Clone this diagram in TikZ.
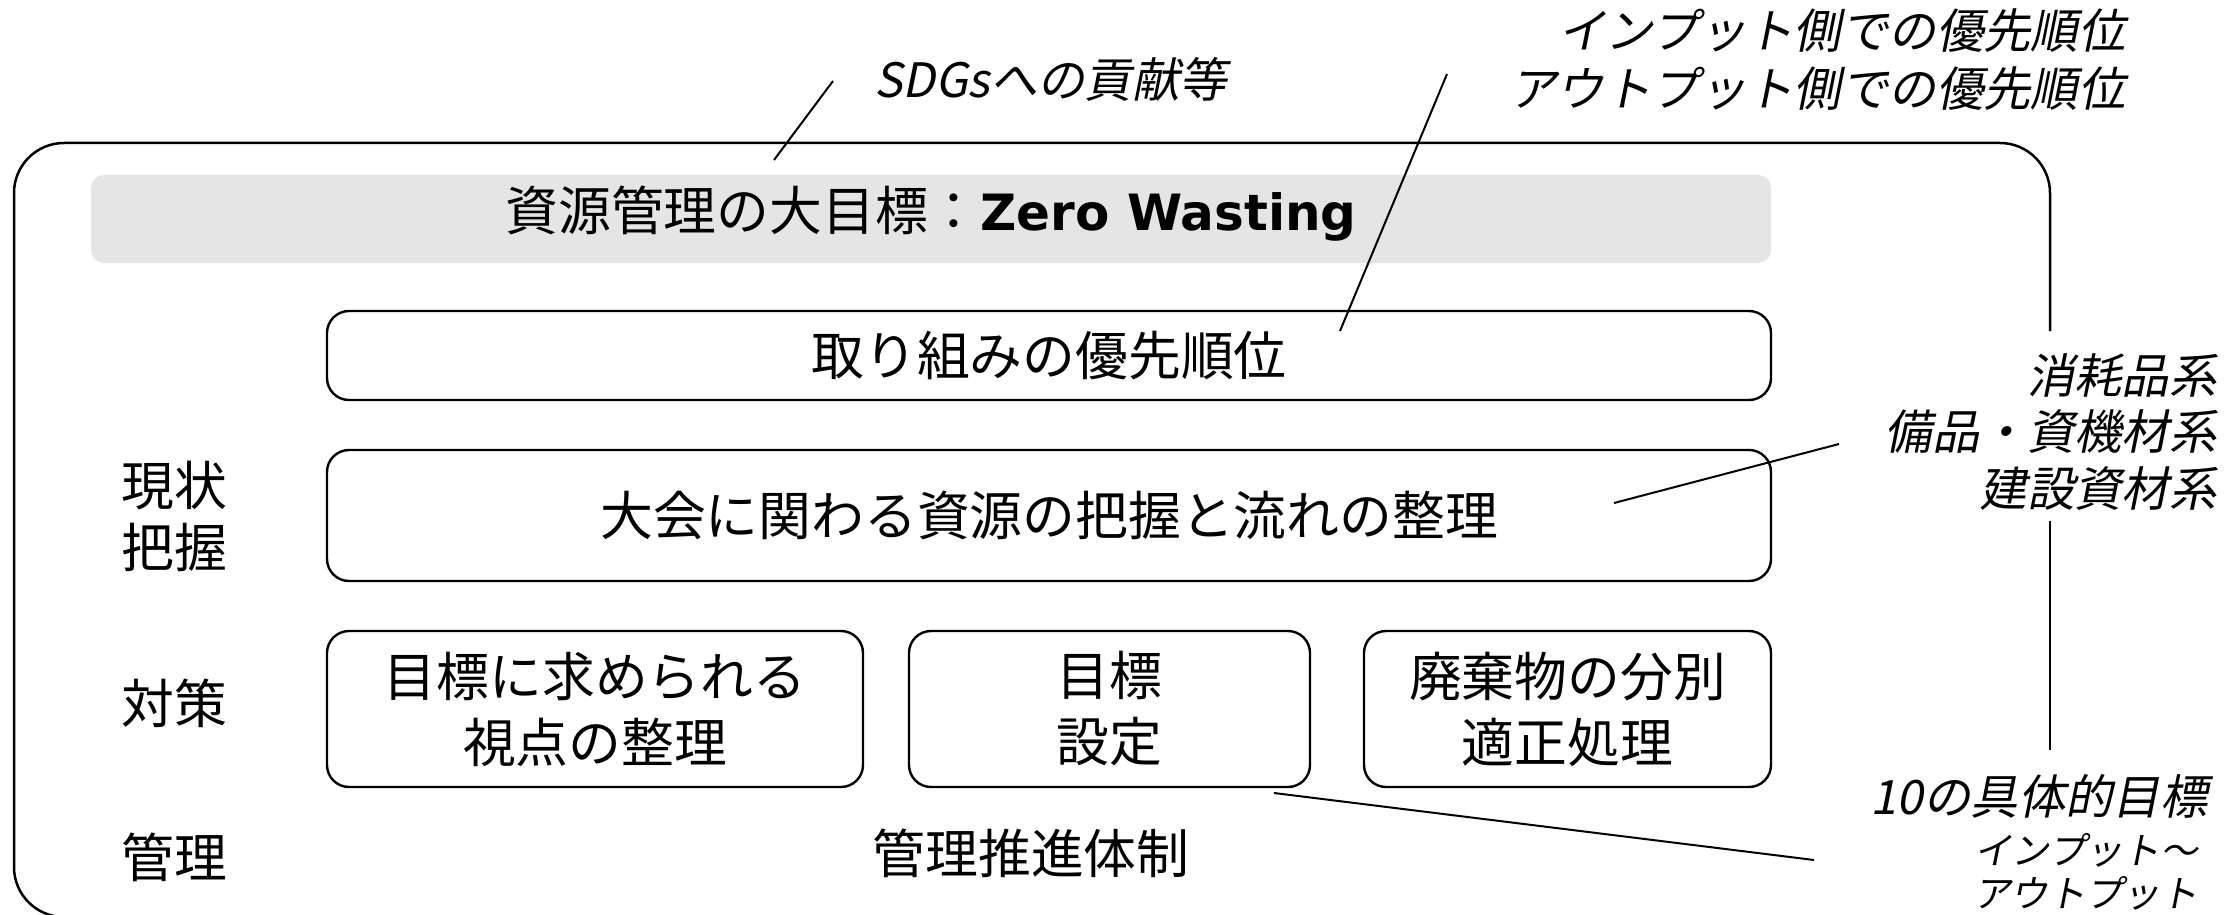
\documentclass[tikz,border=0pt]{standalone}
\usepackage{fontspec}
\setmainfont{Noto Sans CJK JP}
\newfontfamily\jpfont{Noto Sans CJK JP}
\newfontfamily\jpital[FakeSlant=0.2]{Noto Sans CJK JP}
\newfontfamily\verdfont{DejaVu Sans}
\newcommand\mainjp{\jpfont\fontsize{26.4}{33}\selectfont}
\newcommand\labjp{\jpital\fontsize{23.7}{29}\selectfont}
\newcommand\smalljp{\jpital\fontsize{18.7}{21.5}\selectfont}
\definecolor{bargray}{HTML}{E5E5E5}
\tikzset{
  frameline/.style={line width=1.25pt, black},
  leader/.style={line width=1pt, black},
  stepbox/.style={draw, line width=1.2pt, rounded corners=11pt, inner sep=0pt, align=center, font=\mainjp},
  plaintext/.style={inner sep=0pt, align=center, font=\mainjp},
  labeltext/.style={inner sep=0pt, align=right, font=\labjp},
}
\begin{document}
\begin{tikzpicture}[x=0.5pt,y=-0.5pt]
\useasboundingbox (0,0) rectangle (2240,915);
\fill[white] (0,0) rectangle (2240,915);

% outer frame
\coordinate (frA) at (2050,331);
\coordinate (frB) at (2050,143);
\coordinate (frC) at (14,143);
\coordinate (frD) at (14,917);
\coordinate (frE) at (1000,917);
\coordinate (frF) at (2050,521);
\coordinate (frG) at (2050,750);
\draw[frameline, rounded corners=25pt] (frA) -- (frB) -- (frC) -- (frD) -- (frE);
\draw[frameline] (frF) -- (frG);

% title bar
\node[fill=bargray, rounded corners=6.5pt, minimum width=840pt, minimum height=44pt, inner sep=0pt] (bar) at (931,219) {};
\node[plaintext] (title) at (931,214) {資源管理の大目標：{\verdfont\bfseries\fontsize{25}{30}\selectfont Zero Wasting}};

% boxes
\node[stepbox, minimum width=722pt, minimum height=44.5pt] (prio) at (1049,355.5) {取り組みの優先順位};
\node[stepbox, minimum width=722pt, minimum height=65.5pt] (flow) at (1049,515.5) {大会に関わる資源の把握と流れの整理};
\node[stepbox, minimum width=268pt, minimum height=78pt] (view) at (595,709) {目標に求められる\\視点の整理};
\node[stepbox, minimum width=200.5pt, minimum height=78pt] (goal) at (1109.5,709) {目標\\設定};
\node[stepbox, minimum width=203.5pt, minimum height=78pt] (waste) at (1567.5,709) {廃棄物の分別\\適正処理};

% left labels
\node[plaintext, font=\jpfont\fontsize{26.4}{31}\selectfont] (genjo) at (174,516) {現状\\把握};
\node[plaintext] (taisaku) at (174,703) {対策};
\node[plaintext] (kanri) at (174,857) {管理};
\node[plaintext] (suishin) at (1031,853) {管理推進体制};

% italic labels
\node[labeltext, anchor=west] (sdgs) at (874,79) {SDGsへの貢献等};
\node[labeltext, anchor=east] (inout) at (2126,60) {インプット側での優先順位\\アウトプット側での優先順位};
\node[labeltext, anchor=east, font=\jpital\fontsize{23.7}{28.3}\selectfont] (kinds) at (2217,432) {消耗品系\\備品・資機材系\\建設資材系};
\node[labeltext, anchor=east] (ten) at (2208,796) {10の具体的目標};
\node[labeltext, anchor=east, font=\smalljp] (inout2) at (2198,872) {インプット～\\アウトプット};

% leader lines
\coordinate (sdgsA) at (833,81);
\coordinate (sdgsB) at (774,160);
\coordinate (prioA) at (1447,74);
\coordinate (prioB) at (1340,331);
\coordinate (kindA) at (1839,444);
\coordinate (kindB) at (1614,503);
\coordinate (tenA) at (1814,860);
\coordinate (tenB) at (1274,793);
\draw[leader] (sdgsA) -- (sdgsB);
\draw[leader] (prioA) -- (prioB);
\draw[leader] (kindA) -- (kindB);
\draw[leader] (tenA) -- (tenB);
\end{tikzpicture}
\end{document}
